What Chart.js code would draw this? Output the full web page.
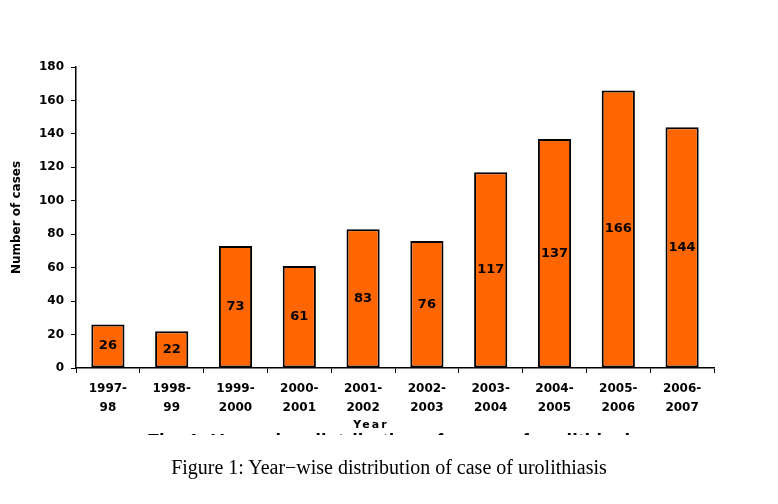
<!DOCTYPE html>
<html>
<head>
<meta charset="utf-8">
<script src="https://cdn.jsdelivr.net/npm/chart.js@4.4.0/dist/chart.umd.min.js"></script>
<style>
  html, body { margin: 0; padding: 0; background: #fff; }
  #wrap { position: relative; width: 778px; height: 504px; overflow: hidden; }
  #chart { position: absolute; left: 0; top: 0; }
  #xTitle {
    position: absolute; top: 418px; left: 321px; width: 100px; text-align: center;
    font: bold 11px "DejaVu Sans", sans-serif; letter-spacing: 2px; color: #000;
  }
  #cutCaption {
    position: absolute; top: 433px; left: 0; width: 778px; height: 2px; overflow: hidden;
    text-align: center;
  }
  #cutCaption span {
    display: block; margin-top: -2px; margin-left: 10px;
    font: bold 20px "Liberation Sans", Arial, sans-serif; line-height: 20px; color: #000;
  }
  #caption {
    position: absolute; top: 456px; left: 0; width: 778px; text-align: center;
    font: 20px "Liberation Serif", "Times New Roman", serif; color: #000;
  }
</style>
</head>
<body>
<div id="wrap">
  <canvas id="chart" width="778" height="504"></canvas>
  <div id="xTitle">Year</div>
  <div id="cutCaption"><span>Fig. 1: Year-wise distribution of cases of urolithiasis</span></div>
  <div id="caption">Figure 1: Year&minus;wise distribution of case of urolithiasis</div>
</div>
<script>
const years = [
    ['1997-', '98'], ['1998-', '99'], ['1999-', '2000'], ['2000-', '2001'], ['2001-', '2002'],
    ['2002-', '2003'], ['2003-', '2004'], ['2004-', '2005'], ['2005-', '2006'], ['2006-', '2007']
];
const cases = [26, 22, 73, 61, 83, 76, 117, 137, 166, 144];
const yMin = 0;
const yMax = 180;
const yStep = 20;

// value labels in the middle of each bar
const barValueLabels = {
    id: 'barValueLabels',
    afterDatasetsDraw(chart) {
        const ctx = chart.ctx;
        const meta = chart.getDatasetMeta(0);
        ctx.save();
        ctx.font = 'bold 13px "DejaVu Sans", sans-serif';
        ctx.fillStyle = '#000';
        ctx.textAlign = 'center';
        ctx.textBaseline = 'middle';
        meta.data.forEach((bar, i) => {
            const mid = (bar.y + bar.base) / 2;
            ctx.fillText(String(cases[i]), bar.x, mid);
        });
        ctx.restore();
    }
};

const ctx = document.getElementById('chart').getContext('2d');
new Chart(ctx, {
    type: 'bar',
    data: {
        labels: years,
        datasets: [{
            data: cases,
            backgroundColor: '#FF6600',
            borderColor: '#000',
            borderWidth: 2,
            borderSkipped: false,
            barPercentage: 0.52,
            categoryPercentage: 1.0
        }]
    },
    options: {
        responsive: false,
        animation: false,
        layout: {
            padding: { left: 0, top: 67, right: 64, bottom: 76 }
        },
        plugins: {
            legend: { display: false },
            tooltip: { enabled: false }
        },
        scales: {
            x: {
                afterFit(scale) { scale.height = 60; },
                grid: {
                    drawOnChartArea: false,
                    tickLength: 5,
                    color: '#000',
                    lineWidth: 1
                },
                border: { color: '#000', width: 1.5 },
                ticks: {
                    color: '#000',
                    padding: 6,
                    maxRotation: 0,
                    autoSkip: false,
                    font: { family: '"DejaVu Sans", sans-serif', size: 12, weight: 'bold', lineHeight: 1.625 }
                }
            },
            y: {
                min: yMin,
                max: yMax,
                afterFit(scale) { scale.width = 76; },
                grid: {
                    drawOnChartArea: false,
                    tickLength: 5,
                    color: '#000',
                    lineWidth: 1
                },
                border: { color: '#000', width: 1.5 },
                ticks: {
                    stepSize: yStep,
                    color: '#000',
                    padding: 7,
                    font: { family: '"DejaVu Sans", sans-serif', size: 12, weight: 'bold' }
                },
                title: {
                    display: true,
                    text: 'Number of cases',
                    color: '#000',
                    padding: { top: 10, bottom: 0 },
                    font: { family: '"DejaVu Sans", sans-serif', size: 12, weight: 'bold' }
                }
            }
        }
    },
    plugins: [barValueLabels]
});
</script>
</body>
</html>
